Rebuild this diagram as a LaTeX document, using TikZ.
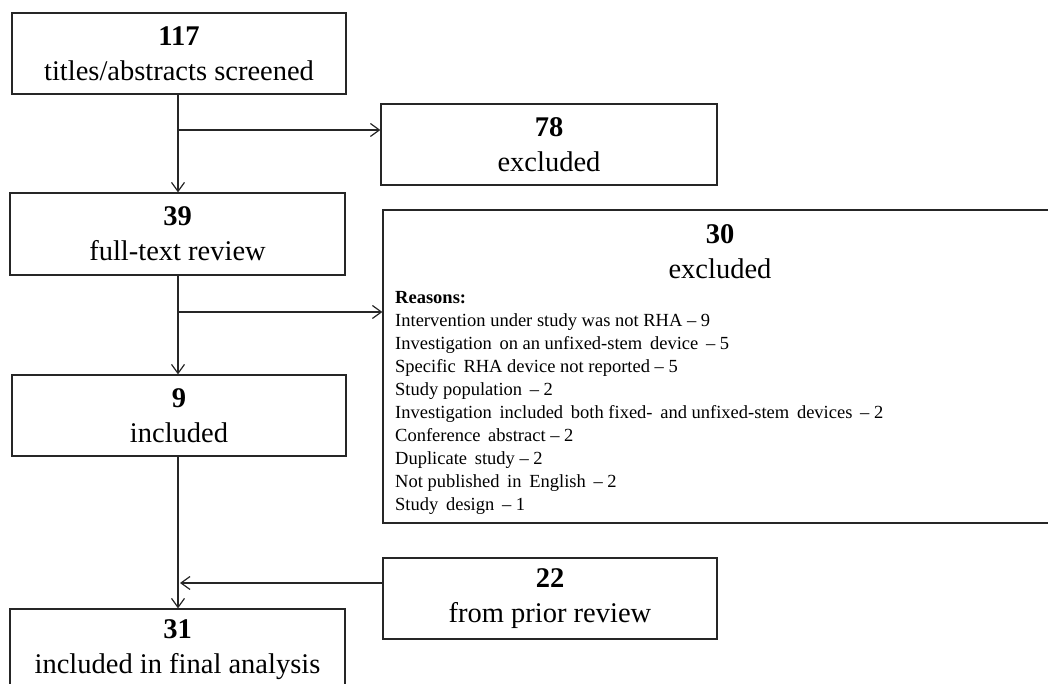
\documentclass[tikz,border=0pt]{standalone}
\usepackage{fontspec}
\setmainfont{Liberation Serif}
\usetikzlibrary{arrows.meta}
\begin{document}
\begin{tikzpicture}[x=1pt,y=1pt,
  box/.style={draw=black!85, line width=1.2pt, rectangle, inner sep=0pt},
  big/.style={font=\fontsize{28.5}{35}\selectfont, align=center, inner sep=0pt},
  small/.style={font=\fontsize{18.5}{23}\selectfont, align=left, inner sep=0pt},
  arr/.style={draw=black!85, line width=1.2pt, -{Straight Barb[length=9pt,width=13pt,line width=1.2pt]}},
  ln/.style={draw=black!85, line width=1.2pt}]
\useasboundingbox (0,0) rectangle (1048,684);
\clip (0,0) rectangle (1048,684);
% boxes
\node[box, minimum width=334pt, minimum height=81pt] (b1) at (179,630.5) {};
\node[big] (t1) at (b1.center) {\textbf{117}\\titles/abstracts screened};
\node[box, minimum width=336pt, minimum height=81pt] (b78) at (549,539.5) {};
\node[big] (t78) at (b78.center) {\textbf{78}\\excluded};
\node[box, minimum width=335pt, minimum height=82pt] (b39) at (177.5,450) {};
\node[big] (t39) at (b39.center) {\textbf{39}\\full-text review};
\node[box, minimum width=674pt, minimum height=313pt] (b30) at (720,317.5) {};
\node[big] (t30) at (720,432.5) {\textbf{30}\\excluded};
\node[small, anchor=north west] (r30) at (395,393) {\textbf{Reasons:}\\
Intervention under study was not RHA – 9\\
Investigation\, on an unfixed-stem\, device\, – 5\\
Specific\, RHA device not reported – 5\\
Study population\, – 2\\
Investigation\, included\, both fixed-\, and unfixed-stem\, devices\, – 2\\
Conference\, abstract – 2\\
Duplicate\, study – 2\\
Not published\, in\, English\, – 2\\
Study\, design\, – 1};
\node[box, minimum width=334pt, minimum height=81pt] (b9) at (179,268.5) {};
\node[big] (t9) at (b9.center) {\textbf{9}\\included};
\node[box, minimum width=334pt, minimum height=81pt] (b22) at (550,85.5) {};
\node[big] (t22) at (b22.center) {\textbf{22}\\from prior review};
\node[box, minimum width=335pt, minimum height=82pt] (b31) at (177.5,34) {};
\node[big] (t31) at (b31.center) {\textbf{31}\\included in final analysis};
% junctions
\coordinate (j1) at (178,554);
\coordinate (j2) at (178,372);
\coordinate (j3) at (178,101);
% connectors
\draw[arr] (j1 |- b1.south) -- (j1 |- b39.north);
\draw[arr] (j1) -- (j1 -| b78.west);
\draw[arr] (j2 |- b39.south) -- (j2 |- b9.north);
\draw[arr] (j2) -- (j2 -| b30.west);
\draw[arr] (j3 |- b9.south) -- (j3 |- b31.north);
\draw[arr] (j3 -| b22.west) -- ([xshift=2pt]j3);
\end{tikzpicture}
\end{document}
